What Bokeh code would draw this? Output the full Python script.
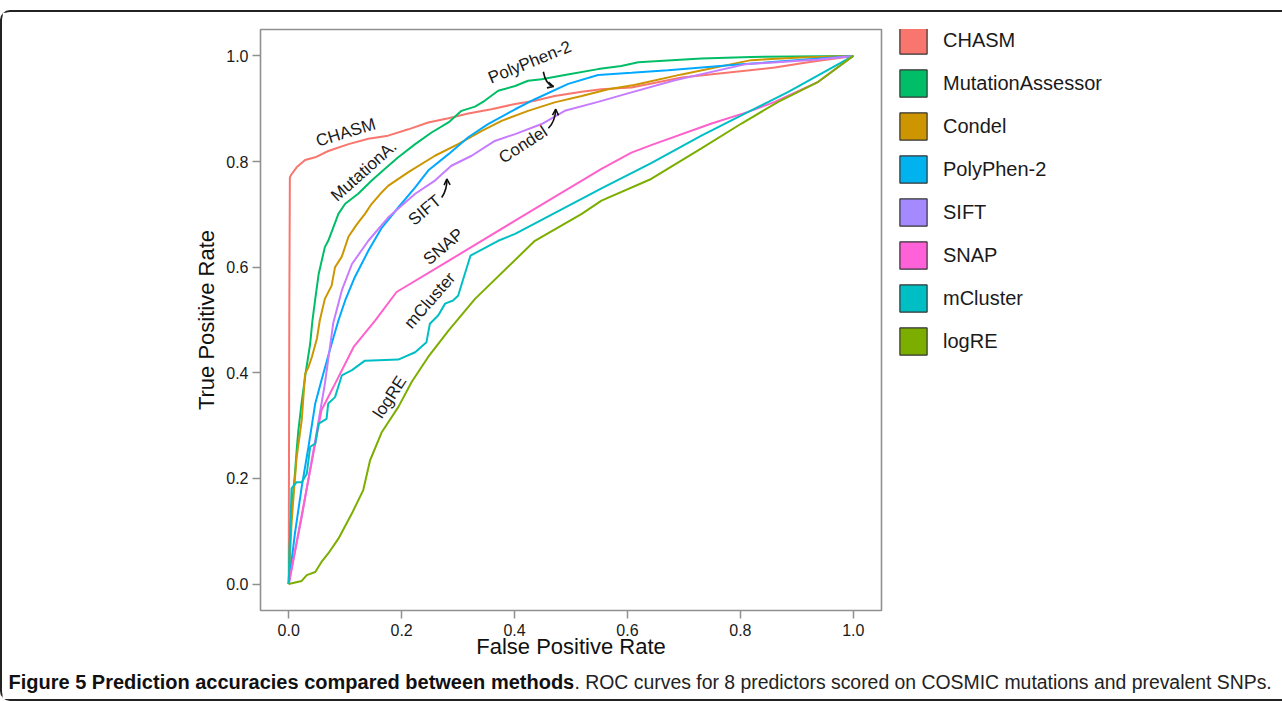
from bokeh.plotting import figure
from bokeh.layouts import row, column
from bokeh.models import (ColumnDataSource, Legend, LegendItem, FixedTicker, NumeralTickFormatter,
                          Label, Arrow, OpenHead, Range1d)
from bokeh.core.properties import value
from bokeh.embed import file_html
from bokeh.resources import INLINE

FONT = "Liberation Sans"

methods = ["CHASM", "MutationAssessor", "Condel", "PolyPhen-2", "SIFT", "SNAP", "mCluster", "logRE"]
line_colors = ["#F8766D", "#00BE67", "#CD9600", "#00A9FF", "#C77CFF", "#FF61CC", "#00BFC4", "#7CAE00"]
legend_colors = ["#F8766D", "#00BE67", "#CD9600", "#00B2EE", "#A58AFF", "#FF61D8", "#00BFC4", "#7CAE00"]

chasm_fpr = [0, 0.001, 0.002, 0.005, 0.014, 0.029, 0.047, 0.070, 0.106, 0.141, 0.176, 0.212, 0.247, 0.283,
             0.318, 0.359, 0.401, 0.436, 0.471, 0.519, 0.554, 0.607, 0.696, 0.861, 0.920, 1.0]
chasm_tpr = [0, 0.50, 0.770, 0.776, 0.789, 0.803, 0.808, 0.820, 0.833, 0.843, 0.849, 0.861, 0.874, 0.882,
             0.891, 0.899, 0.909, 0.915, 0.924, 0.932, 0.937, 0.940, 0.959, 0.978, 0.988, 1.0]

ma_fpr = [0, 0.002, 0.005, 0.011, 0.014, 0.017, 0.023, 0.030, 0.038, 0.042, 0.047, 0.053, 0.064, 0.070,
          0.088, 0.100, 0.123, 0.147, 0.170, 0.194, 0.224, 0.253, 0.283, 0.306, 0.330, 0.347, 0.371,
          0.401, 0.424, 0.448, 0.489, 0.548, 0.589, 0.619, 0.731, 0.819, 1.0]
ma_tpr = [0, 0.083, 0.140, 0.209, 0.253, 0.290, 0.345, 0.400, 0.455, 0.499, 0.540, 0.587, 0.638, 0.650,
          0.701, 0.720, 0.739, 0.764, 0.786, 0.808, 0.833, 0.855, 0.874, 0.896, 0.904, 0.915, 0.934,
          0.943, 0.953, 0.956, 0.964, 0.975, 0.981, 0.988, 0.995, 0.998, 1.0]

condel_fpr = [0, 0.005, 0.008, 0.014, 0.023, 0.029, 0.035, 0.041, 0.050, 0.055, 0.064, 0.076, 0.082,
              0.094, 0.106, 0.120, 0.135, 0.147, 0.165, 0.176, 0.212, 0.259, 0.300, 0.342, 0.377, 0.424,
              0.471, 0.519, 0.566, 0.612, 0.696, 0.819, 0.908, 1.0]
condel_tpr = [0, 0.115, 0.159, 0.240, 0.310, 0.398, 0.411, 0.430, 0.465, 0.499, 0.540, 0.565, 0.600,
              0.620, 0.658, 0.680, 0.701, 0.720, 0.742, 0.754, 0.780, 0.811, 0.833, 0.858, 0.877, 0.896,
              0.912, 0.924, 0.937, 0.945, 0.965, 0.992, 0.997, 1.0]

pph_fpr = [0, 0.011, 0.023, 0.035, 0.047, 0.058, 0.076, 0.088, 0.100, 0.117, 0.141, 0.165, 0.194, 0.224,
           0.247, 0.283, 0.318, 0.353, 0.401, 0.436, 0.495, 0.548, 0.607, 0.672, 0.802, 1.0]
pph_tpr = [0, 0.096, 0.184, 0.260, 0.342, 0.386, 0.455, 0.499, 0.537, 0.581, 0.631, 0.675, 0.713, 0.751,
           0.783, 0.814, 0.846, 0.871, 0.899, 0.918, 0.947, 0.964, 0.968, 0.973, 0.984, 1.0]

sift_fpr = [0, 0.023, 0.047, 0.064, 0.079, 0.094, 0.112, 0.141, 0.176, 0.224, 0.259, 0.288, 0.324, 0.365,
            0.401, 0.448, 0.489, 0.548, 0.607, 0.684, 0.808, 0.938, 1.0]
sift_tpr = [0, 0.127, 0.272, 0.379, 0.495, 0.556, 0.606, 0.650, 0.694, 0.739, 0.764, 0.792, 0.811, 0.839,
            0.852, 0.871, 0.896, 0.913, 0.931, 0.954, 0.984, 0.993, 1.0]

snap_fpr = [0, 0.058, 0.079, 0.115, 0.153, 0.191, 0.283, 0.401, 0.460, 0.554, 0.607, 0.642, 0.749, 0.814,
            0.861, 0.938, 1.0]
snap_tpr = [0, 0.329, 0.373, 0.449, 0.499, 0.553, 0.612, 0.688, 0.726, 0.786, 0.817, 0.831, 0.872, 0.894,
            0.913, 0.951, 1.0]

mcl_fpr = [0, 0.005, 0.014, 0.023, 0.032, 0.038, 0.047, 0.053, 0.067, 0.070, 0.082, 0.094, 0.112, 0.135,
           0.194, 0.224, 0.244, 0.250, 0.265, 0.277, 0.291, 0.300, 0.322, 0.371, 0.401, 0.554, 0.642,
           0.731, 0.814, 0.885, 1.0]
mcl_tpr = [0, 0.181, 0.193, 0.193, 0.209, 0.260, 0.266, 0.304, 0.313, 0.342, 0.354, 0.395, 0.405, 0.423,
           0.425, 0.439, 0.458, 0.493, 0.509, 0.531, 0.537, 0.546, 0.622, 0.650, 0.663, 0.749, 0.797,
           0.849, 0.894, 0.932, 1.0]

logre_fpr = [0, 0.023, 0.032, 0.047, 0.058, 0.070, 0.088, 0.112, 0.132, 0.144, 0.165, 0.194, 0.218,
             0.247, 0.283, 0.330, 0.436, 0.519, 0.554, 0.642, 0.731, 0.802, 0.867, 0.938, 1.0]
logre_tpr = [0, 0.006, 0.017, 0.023, 0.042, 0.058, 0.086, 0.134, 0.178, 0.234, 0.288, 0.335, 0.383,
             0.430, 0.480, 0.540, 0.650, 0.701, 0.726, 0.767, 0.825, 0.872, 0.913, 0.951, 1.0]

series_fpr = [chasm_fpr, ma_fpr, condel_fpr, pph_fpr, sift_fpr, snap_fpr, mcl_fpr, logre_fpr]
series_tpr = [chasm_tpr, ma_tpr, condel_tpr, pph_tpr, sift_tpr, snap_tpr, mcl_tpr, logre_tpr]

tick_values = [0.0, 0.2, 0.4, 0.6, 0.8, 1.0]
x_title = "False Positive Rate"
y_title = "True Positive Rate"

# curve labels (data position, angle in degrees)
label_text = ["CHASM", "MutationA.", "PolyPhen-2", "Condel", "SIFT", "SNAP", "mCluster", "logRE"]
label_x = [0.101, 0.133, 0.427, 0.415, 0.241, 0.274, 0.250, 0.179]
label_y = [0.855, 0.782, 0.988, 0.832, 0.708, 0.639, 0.537, 0.354]
label_angle = [17, 42, 22, 33, 40, 40, 49, 57]

# little curved pointer arrows: start, control, end
arrow_x0 = [0.451, 0.460, 0.271]
arrow_y0 = [0.970, 0.863, 0.732]
arrow_cx = [0.455, 0.472, 0.281]
arrow_cy = [0.946, 0.876, 0.748]
arrow_x1 = [0.469, 0.473, 0.280]
arrow_y1 = [0.942, 0.899, 0.767]

caption_bold = "Figure 5 Prediction accuracies compared between methods"
caption_rest = ". ROC curves for 8 predictors scored on COSMIC mutations and prevalent SNPs."

# ---------------- main plot ----------------
p = figure(width=890, height=650, output_backend="svg", toolbar_location=None, title=None,
           x_range=Range1d(-0.05, 1.05), y_range=Range1d(-0.05, 1.05),
           min_border_left=258, min_border_right=11, min_border_top=17, min_border_bottom=52,
           x_axis_label=x_title, y_axis_label=y_title)
p.background_fill_color = "white"
p.border_fill_color = "white"
p.grid.visible = False
p.outline_line_color = "#909090"
p.outline_line_width = 1.6

for ax in (p.xaxis[0], p.yaxis[0]):
    ax.ticker = FixedTicker(ticks=tick_values)
    ax.formatter = NumeralTickFormatter(format="0.0")
    ax.axis_line_color = None
    ax.major_tick_line_color = "#909090"
    ax.major_tick_line_width = 1.5
    ax.major_tick_out = 8
    ax.major_tick_in = 0
    ax.minor_tick_line_color = None
    ax.major_label_text_font = FONT
    ax.major_label_text_font_size = "16px"
    ax.major_label_text_color = "#1a1a1a"
    ax.axis_label_text_font = FONT
    ax.axis_label_text_font_size = "22px"
    ax.axis_label_text_font_style = "normal"
    ax.axis_label_text_color = "#111111"
p.xaxis[0].major_label_standoff = 5
p.xaxis[0].axis_label_standoff = -5
p.yaxis[0].major_label_standoff = 4
p.yaxis[0].axis_label_standoff = 4

for fx, ty, col in zip(series_fpr, series_tpr, line_colors):
    src = ColumnDataSource(dict(x=fx, y=ty))
    p.line("x", "y", source=src, line_color=col, line_width=2)

lab_src = ColumnDataSource(dict(x=label_x, y=label_y, text=label_text, angle=label_angle))
p.text("x", "y", text="text", angle="angle", angle_units="deg", source=lab_src,
       text_font=value(FONT), text_font_size="17px", text_color="#1a1a1a",
       text_align="center", text_baseline="middle")

arr_src = ColumnDataSource(dict(x0=arrow_x0, y0=arrow_y0, cx=arrow_cx, cy=arrow_cy,
                                x1=arrow_x1, y1=arrow_y1))
p.quadratic(x0="x0", y0="y0", x1="x1", y1="y1", cx="cx", cy="cy", source=arr_src,
            line_color="#111111", line_width=1.6)
for cx, cy, x1, y1 in zip(arrow_cx, arrow_cy, arrow_x1, arrow_y1):
    p.add_layout(Arrow(end=OpenHead(size=6, line_color="#111111", line_width=1.6),
                       x_start=cx, y_start=cy, x_end=x1, y_end=y1, line_alpha=0))

# ---------------- legend panel ----------------
lg = figure(width=390, height=650, output_backend="svg", toolbar_location=None, title=None,
            x_axis_type=None, y_axis_type=None, x_range=Range1d(0, 1), y_range=Range1d(0, 1),
            min_border=0)
lg.outline_line_color = None
lg.grid.visible = False
items = []
for name, col in zip(methods, legend_colors):
    # key swatch only: its single quad sits outside the visible range
    r = lg.quad(left=[-3], right=[-2], top=[-2], bottom=[-3], fill_color=col,
                line_color="#333333", line_width=1.2)
    items.append(LegendItem(label=name, renderers=[r]))
legend = Legend(items=items, location=(4, 252), glyph_width=34, glyph_height=34,
                spacing=9, label_standoff=13, padding=0, margin=0,
                border_line_color=None, background_fill_alpha=0,
                label_text_font=FONT, label_text_font_size="20px", label_text_color="#1a1a1a")
lg.add_layout(legend)

# ---------------- caption panel ----------------
cap = figure(width=1280, height=37, output_backend="svg", toolbar_location=None, title=None,
             x_axis_type=None, y_axis_type=None, x_range=Range1d(0, 1), y_range=Range1d(0, 1),
             min_border=0)
cap.outline_line_color = None
cap.grid.visible = False
cap.add_layout(Label(x=6, y=18, x_units="screen", y_units="screen", text=caption_bold,
                     text_font=FONT, text_font_size="20px", text_font_style="bold",
                     text_color="#111111", text_baseline="alphabetic"))
cap.add_layout(Label(x=6 + 566, y=18, x_units="screen", y_units="screen", text=caption_rest,
                     text_font=FONT, text_font_size="19.4px", text_color="#222222",
                     text_baseline="alphabetic"))

root = column(row(p, lg), cap, margin=(10, 0, 0, 0),
              styles={"border-top": "2px solid #222222", "border-left": "2px solid #222222",
                      "border-bottom": "2px solid #222222",
                      "border-top-left-radius": "10px", "border-bottom-left-radius": "10px"})

open("out.html", "w").write(file_html(root, INLINE))
